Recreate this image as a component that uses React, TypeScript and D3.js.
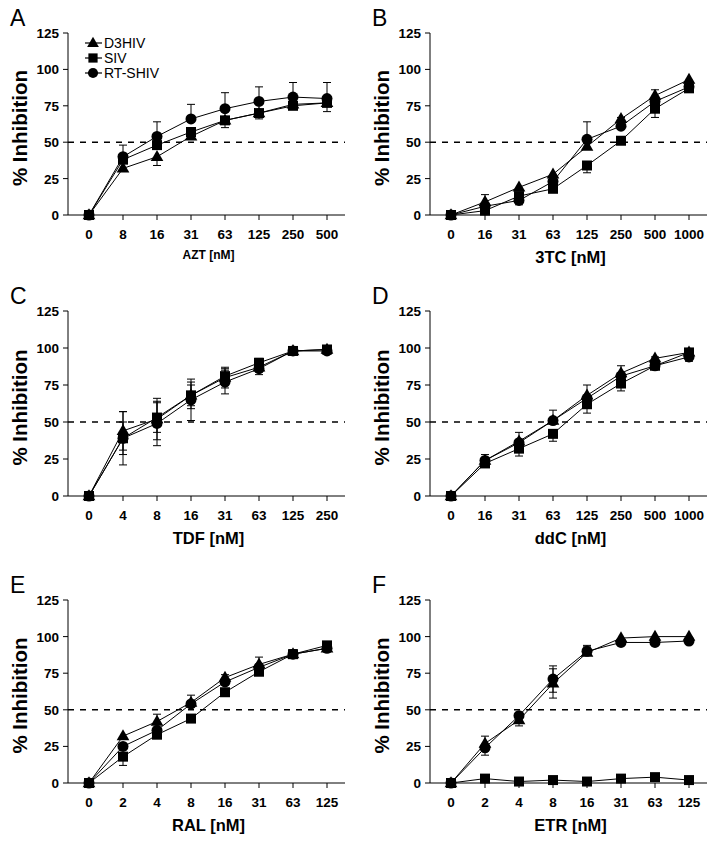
import React from "react";
import * as d3 from "d3";

// ---------- data ----------
const seriesNames = ["D3HIV", "SIV", "RT-SHIV"];
const panelLetters = ["A", "B", "C", "D", "E", "F"];
const xTitles = ["AZT [nM]", "3TC [nM]", "TDF [nM]", "ddC [nM]", "RAL [nM]", "ETR [nM]"];
const yTicks = [0, 25, 50, 75, 100, 125];

const catsAZT = ["0", "8", "16", "31", "63", "125", "250", "500"];
const cats3TC = ["0", "16", "31", "63", "125", "250", "500", "1000"];
const catsTDF = ["0", "4", "8", "16", "31", "63", "125", "250"];
const catsDDC = ["0", "16", "31", "63", "125", "250", "500", "1000"];
const catsRAL = ["0", "2", "4", "8", "16", "31", "63", "125"];
const catsETR = ["0", "2", "4", "8", "16", "31", "63", "125"];

// A: AZT
const aztD3 = [0, 32, 40, 54, 65, 70, 76, 77];
const aztD3Up = [0, 0, 0, 0, 0, 0, 0, 0];
const aztD3Dn = [0, 0, 6, 0, 0, 0, 0, 0];
const aztSIV = [0, 38, 48, 57, 65, 70, 75, 77];
const aztSIVUp = [0, 0, 0, 0, 0, 0, 0, 0];
const aztSIVDn = [0, 0, 0, 0, 5, 4, 0, 6];
const aztRT = [0, 40, 54, 66, 73, 78, 81, 80];
const aztRTUp = [0, 8, 10, 10, 11, 10, 10, 11];
const aztRTDn = [0, 0, 0, 0, 0, 0, 0, 0];

// B: 3TC
const tcD3 = [0, 9, 19, 28, 47, 66, 82, 93];
const tcD3Up = [0, 5, 0, 0, 0, 1, 4, 0];
const tcD3Dn = [0, 0, 0, 0, 0, 0, 0, 0];
const tcSIV = [0, 3, 13, 18, 34, 51, 73, 87];
const tcSIVUp = [0, 0, 0, 0, 0, 0, 0, 0];
const tcSIVDn = [0, 0, 0, 0, 5, 0, 6, 2];
const tcRT = [0, 6, 10, 23, 52, 61, 78, 88];
const tcRTUp = [0, 0, 0, 0, 12, 0, 0, 0];
const tcRTDn = [0, 0, 3, 0, 0, 0, 0, 0];

// C: TDF
const tdfD3 = [0, 44, 52, 68, 80, 87, 98, 99];
const tdfD3Err = [0, 13, 14, 9, 7, 3, 1, 1];
const tdfSIV = [0, 39, 53, 68, 81, 90, 98, 99];
const tdfSIVErr = [0, 11, 10, 7, 5, 3, 1, 1];
const tdfRT = [0, 39, 49, 65, 77, 86, 98, 98];
const tdfRTErr = [0, 18, 15, 14, 8, 4, 1, 1];

// D: ddC
const ddcD3 = [0, 24, 37, 51, 68, 83, 93, 97];
const ddcD3Up = [0, 4, 6, 7, 7, 5, 1, 1];
const ddcD3Dn = [0, 0, 0, 0, 0, 0, 0, 0];
const ddcSIV = [0, 22, 32, 42, 62, 76, 88, 97];
const ddcSIVUp = [0, 0, 0, 0, 0, 0, 0, 0];
const ddcSIVDn = [0, 0, 5, 5, 6, 5, 2, 0];
const ddcRT = [0, 24, 36, 51, 66, 81, 88, 94];
const ddcRTUp = [0, 0, 0, 0, 0, 0, 0, 0];
const ddcRTDn = [0, 0, 0, 0, 0, 0, 0, 3];

// E: RAL
const ralD3 = [0, 32, 42, 55, 72, 81, 88, 92];
const ralD3Up = [0, 0, 5, 5, 2, 5, 3, 0];
const ralD3Dn = [0, 0, 0, 0, 0, 0, 0, 0];
const ralSIV = [0, 18, 33, 44, 62, 76, 88, 94];
const ralSIVUp = [0, 0, 0, 0, 0, 0, 0, 0];
const ralSIVDn = [0, 6, 2, 0, 0, 0, 2, 0];
const ralRT = [0, 25, 36, 54, 69, 79, 88, 92];
const ralRTUp = [0, 0, 0, 0, 0, 0, 0, 0];
const ralRTDn = [0, 0, 0, 0, 0, 0, 0, 0];

// F: ETR
const etrD3 = [0, 27, 43, 68, 89, 99, 100, 100];
const etrD3Up = [0, 5, 0, 10, 4, 0, 0, 0];
const etrD3Dn = [0, 0, 4, 10, 0, 0, 0, 0];
const etrSIV = [0, 3, 1, 2, 1, 3, 4, 2];
const etrSIVUp = [0, 0, 0, 0, 0, 0, 0, 0];
const etrSIVDn = [0, 0, 0, 0, 0, 0, 0, 0];
const etrRT = [0, 24, 46, 71, 90, 96, 96, 97];
const etrRTUp = [0, 0, 0, 9, 4, 0, 0, 0];
const etrRTDn = [0, 5, 0, 9, 0, 0, 0, 0];

// ---------- assembly ----------
type S = { vals: number[]; up: number[]; dn: number[] };
const mk = (vals: number[], up: number[], dn: number[]): S => ({ vals, up, dn });

const panelCats = [catsAZT, cats3TC, catsTDF, catsDDC, catsRAL, catsETR];
const panelSeries: S[][] = [
  [mk(aztD3, aztD3Up, aztD3Dn), mk(aztSIV, aztSIVUp, aztSIVDn), mk(aztRT, aztRTUp, aztRTDn)],
  [mk(tcD3, tcD3Up, tcD3Dn), mk(tcSIV, tcSIVUp, tcSIVDn), mk(tcRT, tcRTUp, tcRTDn)],
  [mk(tdfD3, tdfD3Err, tdfD3Err), mk(tdfSIV, tdfSIVErr, tdfSIVErr), mk(tdfRT, tdfRTErr, tdfRTErr)],
  [mk(ddcD3, ddcD3Up, ddcD3Dn), mk(ddcSIV, ddcSIVUp, ddcSIVDn), mk(ddcRT, ddcRTUp, ddcRTDn)],
  [mk(ralD3, ralD3Up, ralD3Dn), mk(ralSIV, ralSIVUp, ralSIVDn), mk(ralRT, ralRTUp, ralRTDn)],
  [mk(etrD3, etrD3Up, etrD3Dn), mk(etrSIV, etrSIVUp, etrSIVDn), mk(etrRT, etrRTUp, etrRTDn)],
];

// ---------- layout ----------
const W = 721;
const H = 847;
const FONT = "'Liberation Sans', Arial, Helvetica, sans-serif";
const colX = [68, 430];
const rowY = [
  { top: 33, bottom: 215 },
  { top: 311, bottom: 496 },
  { top: 600, bottom: 783 },
];

const symbols = [d3.symbolTriangle, d3.symbolSquare, d3.symbolCircle];
const symSizes = [70, 100, 95];

function Marker({ i, x, y, scale = 1 }: { i: number; x: number; y: number; scale?: number }) {
  const p = d3.symbol().type(symbols[i]).size(symSizes[i] * scale)();
  const dy = i === 0 ? 0.5 : 0;
  return <path d={p || ""} transform={`translate(${x},${y + dy})`} fill="#000" />;
}

function Panel({ idx }: { idx: number }) {
  const col = idx % 2;
  const row = Math.floor(idx / 2);
  const ax = colX[col];
  const { top, bottom } = rowY[row];
  const cats = panelCats[idx];
  const series = panelSeries[idx];
  const x = d3.scalePoint<string>().domain(cats).range([ax + 21, ax + 259]);
  const y = d3.scaleLinear().domain([0, 125]).range([bottom, top]);
  const axEnd = ax + 277;
  const line = d3
    .line<number>()
    .x((_, k) => x(cats[k]) as number)
    .y((v) => y(v));
  const isA = idx === 0;
  return (
    <g>
      <text x={col === 0 ? 10 : 372} y={top - 7} fontFamily={FONT} fontSize={23} fill="#000">
        {panelLetters[idx]}
      </text>
      {/* y title */}
      <text
        transform={`translate(${ax - 41},${(top + bottom) / 2 + 4}) rotate(-90)`}
        textAnchor="middle"
        fontFamily={FONT}
        fontWeight="bold"
        fontSize={20.5}
        fill="#000"
      >
        % Inhibition
      </text>
      {/* y axis */}
      <line x1={ax} x2={ax} y1={top} y2={bottom} stroke="#000" strokeWidth={1} />
      {yTicks.map((t) => (
        <g key={t}>
          <line x1={ax - 5} x2={ax} y1={y(t)} y2={y(t)} stroke="#000" />
          <text
            x={ax - 9}
            y={y(t) + 5}
            textAnchor="end"
            fontFamily={FONT}
            fontWeight="bold"
            fontSize={13.5}
            fill="#000"
          >
            {t}
          </text>
        </g>
      ))}
      {/* x axis */}
      <line x1={ax} x2={axEnd} y1={bottom} y2={bottom} stroke="#000" strokeWidth={1} />
      {cats.map((c) => (
        <g key={c}>
          <line x1={x(c)} x2={x(c)} y1={bottom} y2={bottom + 5} stroke="#000" />
          <text
            x={x(c)}
            y={bottom + 24}
            textAnchor="middle"
            fontFamily={FONT}
            fontWeight="bold"
            fontSize={13.5}
            fill="#000"
          >
            {c}
          </text>
        </g>
      ))}
      <text
        x={(ax + axEnd) / 2 + 2}
        y={bottom + (isA ? 44 : 48)}
        textAnchor="middle"
        fontFamily={FONT}
        fontWeight="bold"
        fontSize={isA ? 12 : 16.5}
        fill="#000"
      >
        {xTitles[idx]}
      </text>
      {/* 50% dashed line */}
      <line
        x1={ax}
        x2={axEnd}
        y1={y(50)}
        y2={y(50)}
        stroke="#000"
        strokeWidth={1.6}
        strokeDasharray="6,6"
      />
      {/* series */}
      {series.map((s, si) => (
        <g key={si}>
          {s.vals.map((v, k) => {
            const cx = x(cats[k]) as number;
            const parts = [];
            if (s.up[k] > 0) {
              const yy = y(v + s.up[k]);
              parts.push(
                <g key={"u" + k}>
                  <line x1={cx} x2={cx} y1={y(v)} y2={yy} stroke="#000" />
                  <line x1={cx - 4} x2={cx + 4} y1={yy} y2={yy} stroke="#000" />
                </g>
              );
            }
            if (s.dn[k] > 0) {
              const yy = y(v - s.dn[k]);
              parts.push(
                <g key={"d" + k}>
                  <line x1={cx} x2={cx} y1={y(v)} y2={yy} stroke="#000" />
                  <line x1={cx - 4} x2={cx + 4} y1={yy} y2={yy} stroke="#000" />
                </g>
              );
            }
            return parts;
          })}
          <path d={line(s.vals) || ""} fill="none" stroke="#000" strokeWidth={1} />
          {s.vals.map((v, k) => (
            <Marker key={k} i={si} x={x(cats[k]) as number} y={y(v)} />
          ))}
        </g>
      ))}
      {/* legend */}
      {isA &&
        seriesNames.map((n, si) => {
          const ly = 43 + si * 15;
          return (
            <g key={n}>
              <line x1={85} x2={102} y1={ly} y2={ly} stroke="#000" strokeWidth={1.2} />
              <Marker i={si} x={93} y={ly} scale={0.85} />
              <text x={104} y={ly + 5} fontFamily={FONT} fontSize={14} fill="#000">
                {n}
              </text>
            </g>
          );
        })}
    </g>
  );
}

export default function App() {
  return (
    <svg
      width={W}
      height={H}
      viewBox={`0 0 ${W} ${H}`}
      style={{ position: "absolute", left: 0, top: 0, background: "#fff" }}
    >
      <rect x={0} y={0} width={W} height={H} fill="#fff" />
      {panelLetters.map((_, i) => (
        <Panel key={i} idx={i} />
      ))}
    </svg>
  );
}
